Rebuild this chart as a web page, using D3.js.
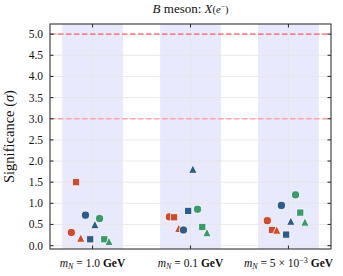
<!DOCTYPE html>
<html>
<head>
<meta charset="utf-8">
<script src="https://cdn.jsdelivr.net/npm/d3@7"></script>
<style>
    html, body { margin: 0; padding: 0; background: #fff; }
    svg text { font-family: "Liberation Serif", "DejaVu Serif", serif; fill: #111; }
</style>
</head>
<body>
<svg id="chart" width="343" height="276"></svg>
<script>
// categories (x groups)
const categories = ["1.0", "0.1", "5e-3"];

// one array per marker series, values read per category
const redCircle     = [0.31, 0.68, 0.59];
const redSquare     = [1.50, 0.67, 0.37];
const redTriangle   = [0.18, 0.41, 0.37];
const blueCircle    = [0.72, 0.37, 0.95];
const blueSquare    = [0.15, 0.82, 0.26];
const blueTriangle  = [0.50, 1.81, 0.58];
const greenCircle   = [0.64, 0.86, 1.20];
const greenSquare   = [0.15, 0.44, 0.78];
const greenTriangle = [0.10, 0.31, 0.56];

const yTicks = [0, 0.5, 1, 1.5, 2, 2.5, 3, 3.5, 4, 4.5, 5];
const thresholds = [5, 3];

const colors = {red: "#d04a2c", blue: "#2e5c89", green: "#3a9a6c"};

const series = [
    {values: redCircle, color: colors.red, shape: "circle"},
    {values: redSquare, color: colors.red, shape: "square"},
    {values: redTriangle, color: colors.red, shape: "triangle"},
    {values: blueCircle, color: colors.blue, shape: "circle"},
    {values: blueSquare, color: colors.blue, shape: "square"},
    {values: blueTriangle, color: colors.blue, shape: "triangle"},
    {values: greenCircle, color: colors.green, shape: "circle"},
    {values: greenSquare, color: colors.green, shape: "square"},
    {values: greenTriangle, color: colors.green, shape: "triangle"},
];

const margin = {top: 24, right: 12, bottom: 27, left: 50};
const width = 343, height = 276;

const svg = d3.select("#chart");

const x = d3.scaleLinear()
    .domain([-0.434, 2.434])
    .range([margin.left, width - margin.right]);
const y = d3.scaleLinear()
    .domain([-0.08, 5.24])
    .range([height - margin.bottom, margin.top]);

const x0 = x.range()[0], x1 = x.range()[1];
const y0 = y.range()[1], y1 = y.range()[0];

// shaded bands behind each group
svg.append("g")
    .selectAll("rect")
    .data(categories)
    .join("rect")
    .attr("x", (d, i) => x(i - 0.31))
    .attr("width", x(0.31) - x(-0.31))
    .attr("y", y0)
    .attr("height", y1 - y0)
    .attr("fill", "rgb(233,233,253)");

// grid
const grid = svg.append("g").attr("stroke", "#e4e4e4").attr("stroke-width", 0.8);
grid.selectAll("line.h")
    .data(yTicks)
    .join("line")
    .attr("class", "h")
    .attr("x1", x0).attr("x2", x1)
    .attr("y1", d => y(d)).attr("y2", d => y(d));
grid.selectAll("line.v")
    .data(categories)
    .join("line")
    .attr("class", "v")
    .attr("x1", (d, i) => x(i)).attr("x2", (d, i) => x(i))
    .attr("y1", y0).attr("y2", y1);

// significance thresholds
svg.append("g")
    .selectAll("line")
    .data(thresholds)
    .join("line")
    .attr("x1", x0).attr("x2", x1)
    .attr("y1", d => y(d)).attr("y2", d => y(d))
    .attr("stroke", d => d === 5 ? "#ff5a6c" : "#ffa2ac")
    .attr("stroke-width", 1.3)
    .attr("stroke-dasharray", "5.5,2.5");

// markers
const dx = 0.048;
function shapePath(shape) {
    if (shape === "circle") return d3.symbol(d3.symbolCircle, 52)();
    if (shape === "square") return d3.symbol(d3.symbolSquare, 52)();
    // triangle centred on its bounding box like matplotlib "^"
    const h = 4.2;
    return `M0,${-h}L${h},${h}L${-h},${h}Z`;
}

series.forEach((s, k) => {
    svg.append("g")
        .selectAll("path")
        .data(s.values)
        .join("path")
        .attr("d", shapePath(s.shape))
        .attr("transform", (d, i) => `translate(${x(i + (k - 4.5) * dx)},${y(d)})`)
        .attr("fill", s.color)
        .attr("stroke", "#fff")
        .attr("stroke-width", 0.8);
});

// frame and inward ticks
const axes = svg.append("g").attr("stroke", "#333").attr("stroke-width", 1.1);
axes.append("rect")
    .attr("x", x0).attr("y", y0)
    .attr("width", x1 - x0).attr("height", y1 - y0)
    .attr("fill", "none");
const tl = 3.5;
yTicks.forEach(t => {
    axes.append("line").attr("x1", x0).attr("x2", x0 + tl).attr("y1", y(t)).attr("y2", y(t));
    axes.append("line").attr("x1", x1).attr("x2", x1 - tl).attr("y1", y(t)).attr("y2", y(t));
});
categories.forEach((c, i) => {
    axes.append("line").attr("x1", x(i)).attr("x2", x(i)).attr("y1", y1).attr("y2", y1 - tl);
    axes.append("line").attr("x1", x(i)).attr("x2", x(i)).attr("y1", y0).attr("y2", y0 + tl);
});

// y tick labels
svg.append("g")
    .selectAll("text")
    .data(yTicks)
    .join("text")
    .attr("x", x0 - 7)
    .attr("y", d => y(d))
    .attr("dy", "0.35em")
    .attr("text-anchor", "end")
    .attr("font-size", 11.5)
    .text(d => d.toFixed(1));

// x tick labels
const xl = svg.append("g")
    .selectAll("text")
    .data(categories)
    .join("text")
    .attr("x", (d, i) => x(i))
    .attr("y", 267)
    .attr("text-anchor", "middle")
    .attr("font-size", 11.5);
xl.each(function(d) {
    const t = d3.select(this);
    t.append("tspan").attr("font-style", "italic").text("m");
    t.append("tspan").attr("font-style", "italic").attr("font-size", 8).attr("dy", 2).text("N");
    t.append("tspan").attr("dy", -2).text(" = ");
    if (d === "5e-3") {
        t.append("tspan").text("5 × 10");
        t.append("tspan").attr("font-size", 8).attr("dy", -4.5).text("−3");
        t.append("tspan").attr("dy", 4.5).attr("font-weight", "bold").text(" GeV");
    } else {
        t.append("tspan").text(d);
        t.append("tspan").attr("font-weight", "bold").text(" GeV");
    }
});

// y axis label
const yl = svg.append("text")
    .attr("transform", `translate(14,${(y0 + y1) / 2}) rotate(-90)`)
    .attr("text-anchor", "middle")
    .attr("font-size", 14.5);
yl.append("tspan").text("Significance (");
yl.append("tspan").attr("font-style", "italic").text("σ");
yl.append("tspan").text(")");

// title
const title = svg.append("text")
    .attr("x", (x0 + x1) / 2)
    .attr("y", 12.5)
    .attr("text-anchor", "middle")
    .attr("font-size", 13);
title.append("tspan").attr("font-style", "italic").text("B");
title.append("tspan").text(" meson: ");
title.append("tspan").attr("font-style", "italic").text("X");
title.append("tspan").attr("font-size", 10.5).text("(");
title.append("tspan").attr("font-style", "italic").attr("font-size", 10.5).text("e");
title.append("tspan").attr("font-size", 7.5).attr("dy", -4).text("−");
title.append("tspan").attr("font-size", 10.5).attr("dy", 4).text(")");
</script>
</body>
</html>
